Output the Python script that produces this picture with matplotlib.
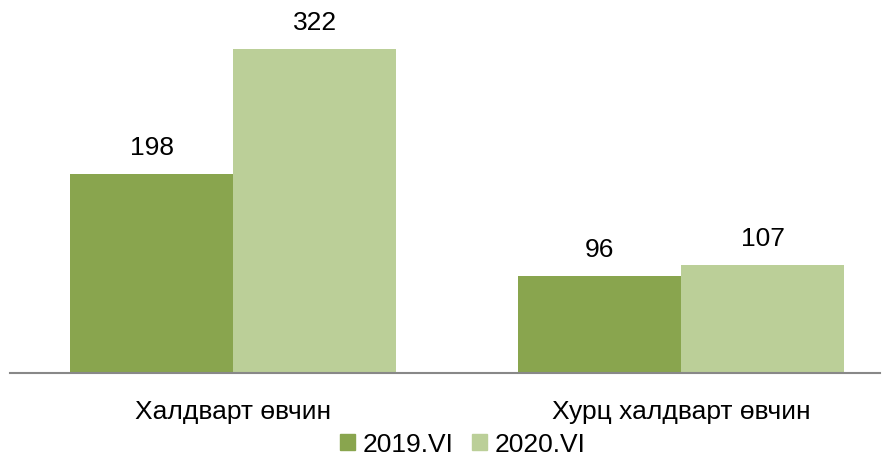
import matplotlib.pyplot as plt
from matplotlib.patches import Patch

plt.rcParams['font.family'] = ['Liberation Sans', 'DejaVu Sans']

categories = ['Халдварт өвчин', 'Хурц халдварт өвчин']
series_names = ['2019.VI', '2020.VI']
values_2019 = [198, 96]
values_2020 = [322, 107]
colors = ['#89A54E', '#BBCF98']

fig = plt.figure(figsize=(8.93, 4.6), dpi=100)
ax = fig.add_axes([10 / 893, 86 / 460, 870 / 893, 374 / 460])

width = 0.364
xs = list(range(len(categories)))
for off, vals, col, name in [(-width / 2, values_2019, colors[0], series_names[0]),
                             (width / 2, values_2020, colors[1], series_names[1])]:
    bars = ax.bar([x + off for x in xs], vals, width=width, color=col, label=name)
    for b, v in zip(bars, vals):
        ax.annotate(str(v), (b.get_x() + b.get_width() / 2, v), xytext=(0, 11),
                    textcoords='offset points', ha='center', va='bottom', fontsize=19)

ax.set_xlim(-0.498, 1.444)
ax.set_ylim(0, 372)
for s in ['top', 'right', 'left']:
    ax.spines[s].set_visible(False)
ax.spines['bottom'].set_color('#888888')
ax.spines['bottom'].set_linewidth(1.5)
ax.set_yticks([])
ax.set_xticks(xs)
ax.set_xticklabels(categories, fontsize=19)
ax.tick_params(axis='x', length=0, pad=19)

handles = [Patch(color=colors[0], label=series_names[0]),
           Patch(color=colors[1], label=series_names[1])]
fig.legend(handles=handles, loc='center', bbox_to_anchor=(463 / 893, 1 - 445 / 460), ncol=2,
           frameon=False, fontsize=19, handlelength=0.55, handleheight=0.55,
           handletextpad=0.3, columnspacing=0.7, borderpad=0)

fig.savefig('out.png', dpi=100)
